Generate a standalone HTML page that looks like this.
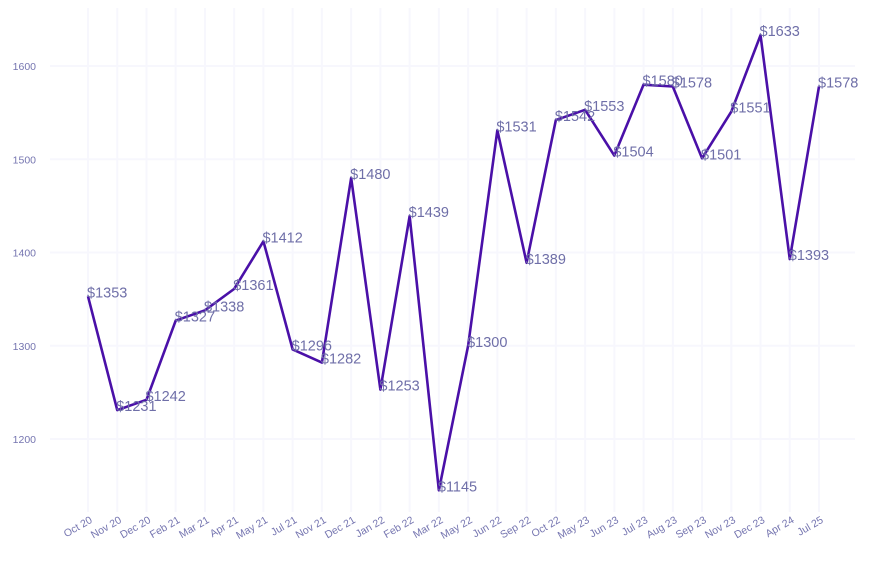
<!DOCTYPE html>
<html><head><meta charset="utf-8"><style>
html,body{margin:0;padding:0;background:#fff;}
svg{display:block;font-family:"Liberation Sans",Arial,sans-serif;}
</style></head><body>
<svg id="chart" width="873" height="565" viewBox="0 0 873 565">
<g id="grid"></g>
<g id="yaxis"></g>
<g id="xaxis"></g>
<g id="series"></g>
<g id="labels"></g>
</svg>
<script>
const categories = ["Oct 20","Nov 20","Dec 20","Feb 21","Mar 21","Apr 21","May 21","Jul 21","Nov 21","Dec 21","Jan 22","Feb 22","Mar 22","May 22","Jun 22","Sep 22","Oct 22","May 23","Jun 23","Jul 23","Aug 23","Sep 23","Nov 23","Dec 23","Apr 24","Jul 25"];
const values = [1353,1231,1242,1327,1338,1361,1412,1296,1282,1480,1253,1439,1145,1300,1531,1389,1542,1553,1504,1580,1578,1501,1551,1633,1393,1578];
const yTicks = [1200,1300,1400,1500,1600];

const NS="http://www.w3.org/2000/svg";
const x0=88, x1=819;
const xs=i=>x0+(x1-x0)*i/(categories.length-1);
const ys=v=>439-(v-1200)*(439-66)/400;
function mk(tag,attrs,parent){const e=document.createElementNS(NS,tag);for(const k in attrs)e.setAttribute(k,attrs[k]);parent.appendChild(e);return e;}
const grid=document.getElementById('grid'),yax=document.getElementById('yaxis'),xax=document.getElementById('xaxis'),ser=document.getElementById('series'),lab=document.getElementById('labels');
categories.forEach((c,i)=>{
  const l=mk('line',{x1:xs(i),x2:xs(i),y1:8,y2:512,stroke:'#f7f7fd','stroke-width':2},grid);
  
  
  const t=mk('text',{x:xs(i)+5,y:522,'text-anchor':'end','font-size':10.5,fill:'#7575b0',transform:`rotate(-30 ${xs(i)+5} 522)`},xax);
  t.textContent=c;
  
  
});
yTicks.forEach(v=>{
  const l=mk('line',{x1:50,x2:855,y1:ys(v),y2:ys(v),stroke:'#f7f7fd','stroke-width':2},grid);
  
  
  const t=mk('text',{x:36,y:ys(v)+4,'text-anchor':'end','font-size':10.5,fill:'#7575b0'},yax);
  t.textContent=v;
  
  
});
const p=mk('polyline',{points:values.map((v,i)=>xs(i)+','+ys(v)).join(' '),fill:'none',stroke:'#4a10a8','stroke-width':2.6,'stroke-linejoin':'round'},ser);


values.forEach((v,i)=>{
  const t=mk('text',{x:xs(i)-1,y:ys(v)+1,'font-size':14.5,fill:'#6f6fa8'},lab);
  t.textContent='$'+v;
  
  
});
</script>
</body></html>
